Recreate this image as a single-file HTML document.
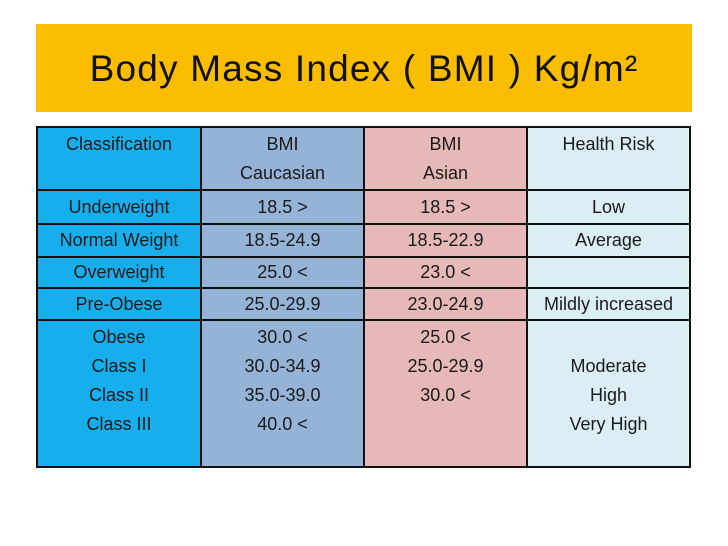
<!DOCTYPE html>
<html><head><meta charset="utf-8"><style>
body{margin:0;width:728px;height:546px;background:#fff;position:relative;overflow:hidden;font-family:"Liberation Sans",sans-serif}
#title{position:absolute;left:36px;top:24px;width:656px;height:88px;background:#FBBD00;color:#111;font-size:37px;letter-spacing:1.2px;text-align:center;line-height:90px}
.c{position:absolute;text-align:center;font-size:18px;color:#1a1a1a;box-sizing:border-box;line-height:29px}
.v{position:absolute;background:#111}
</style></head><body>
<div id="title">Body Mass Index ( BMI ) Kg/m²</div>
<div id="tbl"></div>
<script>
const cols=[37,201,364,527,690];
const rows=[127,190,224,257,288,320,467];
const colors=['#16AEEC','#95B3D7','#E6B9B8','#DBEEF4'];
const headers=[['Classification'],['BMI','Caucasian'],['BMI','Asian'],['Health Risk']];
const body=[
 [['Underweight'],['18.5 >'],['18.5 >'],['Low']],
 [['Normal Weight'],['18.5-24.9'],['18.5-22.9'],['Average']],
 [['Overweight'],['25.0 <'],['23.0 <'],['']],
 [['Pre-Obese'],['25.0-29.9'],['23.0-24.9'],['Mildly increased']],
 [['Obese','Class I','Class II','Class III'],['30.0 <','30.0-34.9','35.0-39.0','40.0 <'],['25.0 <','25.0-29.9','30.0 <'],['','Moderate','High','Very High']]
];
const all=[headers].concat(body);
const t=document.getElementById('tbl');
for(let c=0;c<4;c++){
 const bg=document.createElement('div');
 
 
 bg.style.cssText=`position:absolute;left:${cols[c]}px;top:${rows[0]}px;width:${cols[c+1]-cols[c]}px;height:${rows[6]-rows[0]}px;background:${colors[c]}`;
 t.appendChild(bg);
}
for(let r=0;r<all.length;r++)for(let c=0;c<4;c++){
 const d=document.createElement('div');
 d.className='c';
 
 
 const h=rows[r+1]-rows[r];
 const lines=all[r][c];
 const top = r===0||r===5 ? rows[r]+3 : rows[r]+(h-29)/2;
 d.style.cssText+=`left:${cols[c]}px;top:${top}px;width:${cols[c+1]-cols[c]}px;`;
 d.innerHTML=lines.join('<br>');
 t.appendChild(d);
}
for(const y of rows){const l=document.createElement('div');l.className='v';
 
 
 l.style.cssText=`left:${cols[0]}px;top:${y-1}px;width:${cols[4]-cols[0]+1}px;height:2px`;t.appendChild(l);}
for(const x of cols){const l=document.createElement('div');l.className='v';
 
 
 l.style.cssText=`left:${x-1}px;top:${rows[0]-1}px;width:2px;height:${rows[6]-rows[0]+2}px`;t.appendChild(l);}
</script>
</body></html>
